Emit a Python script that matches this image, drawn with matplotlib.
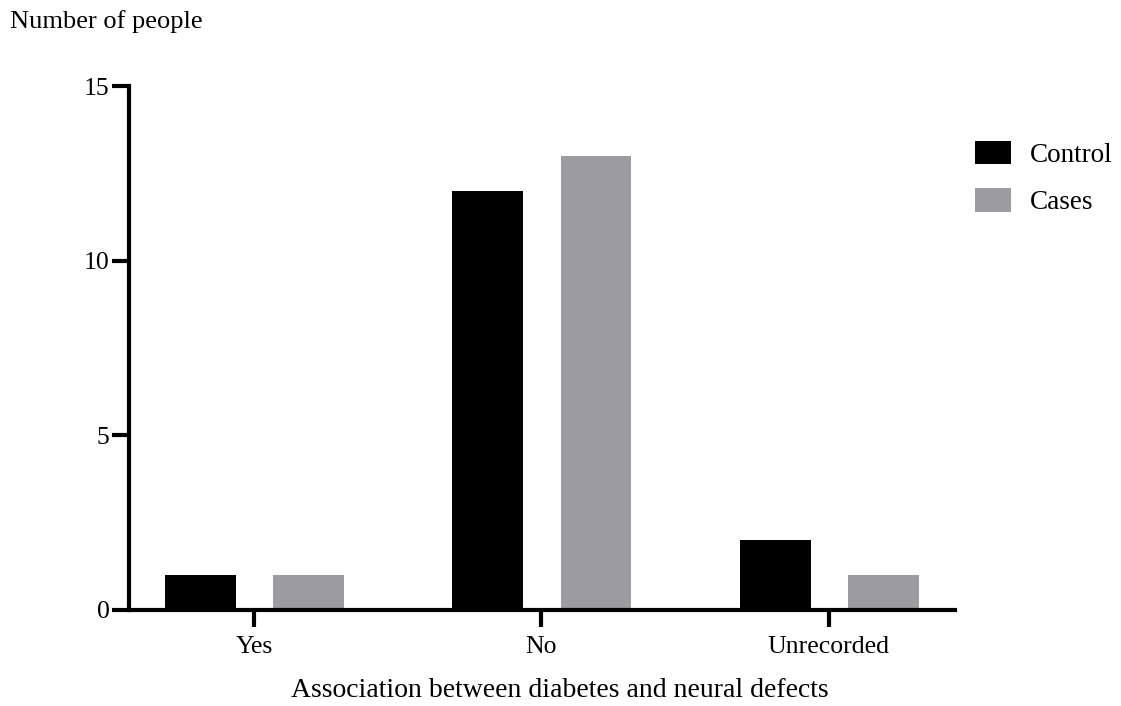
import matplotlib.pyplot as plt
import numpy as np

plt.rcParams['font.family'] = ['Liberation Serif', 'DejaVu Serif']

categories = ['Yes', 'No', 'Unrecorded']
control = [1, 12, 2]
cases = [1, 13, 1]

fig = plt.figure(figsize=(11.21, 7.06), dpi=100)
ax = fig.add_axes([0.1151, 0.136, 0.737, 0.742])

x = np.arange(len(categories))
w = 0.247
ax.bar(x - 0.187, control, w, color='black', label='Control')
ax.bar(x + 0.19, cases, w, color='#9c9b9f', label='Cases')

ax.set_xlim(-0.435, 2.44)
ax.set_ylim(0, 15)
ax.set_yticks([0, 5, 10, 15])
ax.set_xticks(x)
ax.set_xticklabels(categories)

for s in ['top', 'right']:
    ax.spines[s].set_visible(False)
for s in ['left', 'bottom']:
    ax.spines[s].set_linewidth(3)
ax.tick_params(axis='y', width=3, length=12, labelsize=18.5, pad=2)
ax.tick_params(axis='x', width=3, length=12, labelsize=18.5, pad=7)

ax.set_xlabel('Association between diabetes and neural defects', fontsize=20)
ax.xaxis.set_label_coords(0.522, -0.13)
fig.text(0.009, 0.969, 'Number of people', fontsize=19, va='center', ha='left')

ax.legend(loc='upper left', bbox_to_anchor=(975 / 1121, 1 - 141 / 706), bbox_transform=fig.transFigure,
          frameon=False, fontsize=19.5, handlelength=1.33, handleheight=0.95,
          handletextpad=0.7, labelspacing=0.75, borderpad=0, borderaxespad=0)

fig.savefig('out.png', dpi=100)
